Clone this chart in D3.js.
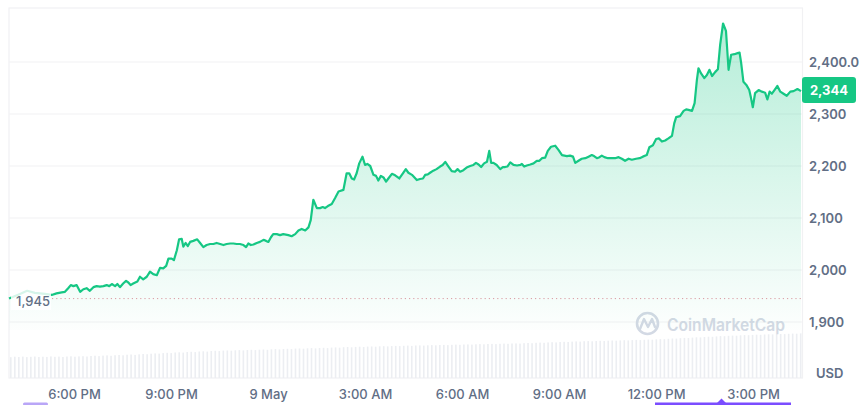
<!DOCTYPE html>
<html><head><meta charset="utf-8">
<script src="https://cdn.jsdelivr.net/npm/d3@7"></script>
<style>html,body{margin:0;padding:0;background:#fff;}svg{display:block;font-family:Inter,"Noto Sans",sans-serif;}</style>
</head><body><svg id="c" width="860" height="405"></svg>
<script>
// hours since 8 May 00:00
const times = [15.99,16.33,16.55,16.79,17.10,17.31,17.46,17.62,17.72,17.82,17.90,17.98,18.08,18.19,18.29,18.39,18.49,18.60,18.70,18.80,18.91,19.01,19.09,19.17,19.27,19.34,19.42,19.52,19.61,19.68,19.75,19.83,19.96,20.04,20.14,20.25,20.35,20.45,20.56,20.66,20.76,20.85,20.92,21.02,21.09,21.18,21.25,21.33,21.38,21.45,21.52,21.59,21.69,21.81,21.90,22.00,22.10,22.21,22.31,22.41,22.52,22.62,22.72,22.83,22.93,23.03,23.13,23.24,23.32,23.39,23.47,23.55,23.65,23.75,23.86,23.94,24.01,24.09,24.16,24.27,24.37,24.47,24.63,24.73,24.84,24.94,25.04,25.15,25.25,25.32,25.40,25.51,25.61,25.69,25.76,25.85,25.97,26.07,26.18,26.33,26.43,26.51,26.59,26.66,26.74,26.82,26.92,27.00,27.07,27.16,27.26,27.34,27.41,27.49,27.57,27.65,27.72,27.83,27.93,28.06,28.17,28.26,28.34,28.45,28.60,28.70,28.79,28.86,28.94,29.01,29.11,29.21,29.32,29.40,29.48,29.58,29.68,29.78,29.86,29.94,30.04,30.14,30.25,30.35,30.43,30.51,30.59,30.68,30.77,30.84,30.90,30.97,31.07,31.18,31.26,31.33,31.40,31.49,31.59,31.70,31.80,31.85,31.92,32.00,32.11,32.21,32.31,32.39,32.47,32.57,32.65,32.75,32.88,32.98,33.09,33.24,33.34,33.43,33.50,33.60,33.70,33.81,33.91,34.01,34.08,34.17,34.25,34.32,34.40,34.51,34.63,34.73,34.84,34.94,35.04,35.15,35.25,35.38,35.49,35.59,35.71,35.79,35.90,36.00,36.09,36.18,36.28,36.38,36.49,36.56,36.62,36.74,36.85,36.93,37.00,37.11,37.19,37.26,37.31,37.39,37.49,37.57,37.65,37.73,37.83,37.91,37.98,38.07,38.16,38.24,38.32,38.42,38.52,38.58,38.63,38.70,38.79,38.88,38.93,38.99,39.06,39.17,39.27,39.37,39.44,39.51,39.58,39.66,39.75,39.84,39.94,40.04,40.15,40.25,40.37,40.48];
const prices = [1945,1954,1960,1956,1954,1952,1955,1957,1958,1965,1971,1969,1971,1958,1963,1965,1960,1967,1969,1968,1969,1971,1969,1973,1969,1973,1967,1974,1979,1976,1971,1974,1978,1987,1982,1987,1997,1992,1990,2004,2003,2008,2022,2022,2019,2038,2059,2060,2045,2052,2046,2054,2056,2059,2052,2044,2048,2050,2050,2052,2050,2048,2050,2051,2051,2050,2050,2048,2044,2051,2048,2049,2052,2054,2058,2056,2054,2063,2069,2069,2067,2069,2067,2065,2069,2076,2079,2076,2082,2096,2135,2119,2119,2121,2119,2123,2127,2138,2151,2154,2186,2186,2176,2174,2186,2205,2218,2202,2204,2200,2183,2181,2172,2181,2178,2170,2176,2185,2182,2176,2186,2194,2187,2183,2173,2175,2176,2183,2184,2187,2191,2194,2199,2202,2208,2199,2190,2189,2194,2189,2192,2197,2200,2202,2206,2203,2198,2205,2208,2229,2206,2206,2202,2194,2198,2198,2199,2207,2202,2201,2202,2204,2199,2201,2203,2205,2210,2210,2215,2216,2229,2237,2239,2231,2221,2219,2220,2218,2206,2210,2214,2215,2218,2221,2219,2215,2217,2220,2217,2215,2215,2215,2217,2214,2210,2214,2212,2214,2215,2218,2221,2236,2240,2252,2253,2247,2249,2253,2258,2282,2294,2296,2306,2309,2308,2306,2321,2365,2388,2378,2369,2375,2385,2373,2381,2386,2433,2474,2460,2385,2414,2415,2417,2418,2398,2362,2356,2346,2332,2313,2340,2346,2343,2341,2328,2343,2339,2346,2354,2343,2339,2335,2343,2344,2348,2344];
const volumes = [20.8,21.3,21.0,21.4,20.9,21.2,21.5,21.0,21.3,21.1,21.6,21.2,21.4,21.0,21.5,21.7,21.3,21.6,
21.8,21.5,22.0,22.3,21.9,22.4,22.6,22.2,22.8,23.0,22.7,23.3,23.5,23.1,23.7,24.0,23.8,24.3,
24.6,24.4,24.9,25.2,24.9,25.5,25.7,25.4,26.0,26.2,25.9,26.5,26.7,26.4,27.0,27.2,26.9,27.4,
27.5,27.3,27.7,27.9,27.6,28.0,28.2,27.9,28.3,28.5,28.2,28.7,28.9,28.6,29.0,29.2,28.9,29.4,
29.5,29.3,29.7,29.9,29.6,30.0,30.2,29.9,30.4,30.6,30.3,30.8,31.0,30.7,31.1,31.3,31.0,31.4,
31.5,31.3,31.7,31.8,31.6,31.9,32.1,31.9,32.2,32.4,32.1,32.5,32.6,32.4,32.7,32.9,32.7,33.0,
33.1,32.9,33.2,33.4,33.2,33.5,33.6,33.4,33.7,33.9,33.7,34.0,34.1,33.9,34.2,34.4,34.2,34.5,
34.6,34.4,34.8,35.0,34.8,35.2,35.4,35.2,35.6,35.8,35.6,36.0,36.2,36.0,36.4,36.6,36.4,36.8,
36.9,36.7,37.0,37.2,37.0,37.3,37.5,37.3,37.6,37.8,37.6,37.9,38.1,37.9,38.2,38.4,38.3,38.7,
38.9,38.8,39.2,39.5,39.4,39.8,40.1,40.0,40.4,40.7,40.6,41.0,41.3,41.2,41.6,41.9,41.8,42.2,
42.4,42.3,42.7,42.9,42.8,43.1,43.3,43.2,43.5,43.7,43.6,43.9,44.0,43.9,44.2,44.4,44.3,44.6];
const xTickHours = [18,21,24,27,30,33,36,39];
const xTickLabels = ["6:00 PM","9:00 PM","9 May","3:00 AM","6:00 AM","9:00 AM","12:00 PM","3:00 PM"];
const yTickValues = [1900,2000,2100,2200,2300,2400];
const yTickLabels = ["1,900","2,000","2,100","2,200","2,300","2,400.0"];
const openPrice = 1945, lastPrice = 2344;
const openLabel = "1,945", lastLabel = "2,344", unitLabel = "USD", watermark = "CoinMarketCap";

const svg = d3.select("#c");
const L = 9, R = 802.5, T = 8, B = 378;
const GREEN = "#16c784", GRID = "#f1f1f3", TXT = "#616e85";

const x = d3.scaleLinear().domain([times[0], times[times.length-1]]).range([L, 801]);
const y = d3.scaleLinear().domain([1900, 2400]).range([322, 62]);
const vy = d3.scaleLinear().domain([0, 48]).range([B, B-48]);
const data = times.map((t,i)=>({t, p: prices[i]}));

const defs = svg.append("defs");
const g = defs.append("linearGradient").attr("id","ag").attr("gradientUnits","userSpaceOnUse")
  .attr("x1",0).attr("x2",0).attr("y1",20).attr("y2",330);
g.append("stop").attr("offset",0).attr("stop-color",GREEN).attr("stop-opacity",0.32);
g.append("stop").attr("offset",1).attr("stop-color",GREEN).attr("stop-opacity",0.01);

// frame
svg.append("rect").attr("x",L).attr("y",T).attr("width",R-L).attr("height",B-T)
  .attr("fill","none").attr("stroke",GRID).attr("stroke-width",1.2);

// volume bars
const vb = d3.scaleBand().domain(d3.range(volumes.length)).range([L+1, R-1]).paddingInner(0.6);
svg.append("g").selectAll("rect").data(volumes).join("rect")
  .attr("x",(d,i)=>vb(i)).attr("width",vb.bandwidth())
  .attr("y",d=>vy(d)).attr("height",d=>B-vy(d)).attr("fill","#eceef2");

// grid
svg.append("g").selectAll("line").data(yTickValues).join("line")
  .attr("x1",L).attr("x2",R).attr("y1",d=>y(d)).attr("y2",d=>y(d))
  .attr("stroke",GRID).attr("stroke-width",1.2);

// watermark
const wm = svg.append("g").attr("fill","none").attr("stroke","#d3d9e4");
wm.append("circle").attr("cx",647.5).attr("cy",323.5).attr("r",10.5).attr("stroke-width",2.6);
wm.append("path").attr("d","M640,329 L644,319 L648,327 L652,319 L655,327").attr("stroke-width",2.4)
  .attr("stroke-linejoin","round").attr("stroke-linecap","round");
svg.append("text").attr("x",667).attr("y",331).attr("fill","#d3d9e4")
  .attr("font-size",17).attr("font-weight",600).attr("textLength",118).attr("lengthAdjust","spacingAndGlyphs").text(watermark);

// area + line
svg.append("path").datum(data).attr("fill","url(#ag)")
  .attr("d", d3.area().x(d=>x(d.t)).y0(330).y1(d=>y(d.p)));
svg.append("path").datum(data).attr("fill","none").attr("stroke",GREEN).attr("stroke-width",2.2)
  .attr("stroke-linejoin","round").attr("d", d3.line().x(d=>x(d.t)).y(d=>y(d.p)));

// open price dotted line + label
svg.append("line").attr("x1",52).attr("x2",R).attr("y1",y(openPrice)).attr("y2",y(openPrice))
  .attr("stroke","#d99aa1").attr("stroke-width",1).attr("stroke-dasharray","1.2,3");
svg.append("rect").attr("x",11).attr("y",284).attr("width",40).attr("height",26).attr("fill","#fff").attr("opacity",0.82);
svg.append("text").attr("x",16).attr("y",y(openPrice)+3).attr("dy","0.35em").attr("fill",TXT)
  .attr("font-size",13).attr("font-weight",500).text(openLabel);

// y axis
const ya = svg.append("g").attr("transform",`translate(${R},0)`)
  .call(d3.axisRight(y).tickValues(yTickValues).tickFormat((d,i)=>yTickLabels[i]).tickSize(0).tickPadding(6.5));
ya.select(".domain").remove();
ya.selectAll("text").attr("fill",TXT).attr("font-size",13).attr("font-weight",600).attr("font-family","Inter");

// x axis
const xa = svg.append("g").attr("transform",`translate(0,${B})`)
  .call(d3.axisBottom(x).tickValues(xTickHours).tickFormat((d,i)=>xTickLabels[i]).tickSize(0).tickPadding(12));
xa.select(".domain").remove();
xa.selectAll("text").attr("fill",TXT).attr("font-size",13).attr("font-weight",500).attr("font-family","Inter");

svg.append("text").attr("x",816).attr("y",373).attr("dy","0.35em").attr("fill",TXT)
  .attr("font-size",13).attr("font-weight",600).text(unitLabel);

// last price badge
svg.append("rect").attr("x",802).attr("y",77).attr("width",54).attr("height",26).attr("rx",3).attr("fill",GREEN);
svg.append("text").attr("x",829).attr("y",90).attr("dy","0.35em").attr("text-anchor","middle")
  .attr("fill","#fff").attr("font-size",13).attr("font-weight",700).text(lastLabel);

// range selector remnants
svg.append("rect").attr("x",23).attr("y",402.5).attr("width",25).attr("height",3).attr("rx",1.5).attr("fill","#b9a6f7");
svg.append("rect").attr("x",655).attr("y",402.5).attr("width",136).attr("height",3).attr("fill","#7b4dff");
svg.append("path").attr("d","M717,403 L721.5,398.5 L726,403 Z").attr("fill","#7b4dff");
</script></body></html>
